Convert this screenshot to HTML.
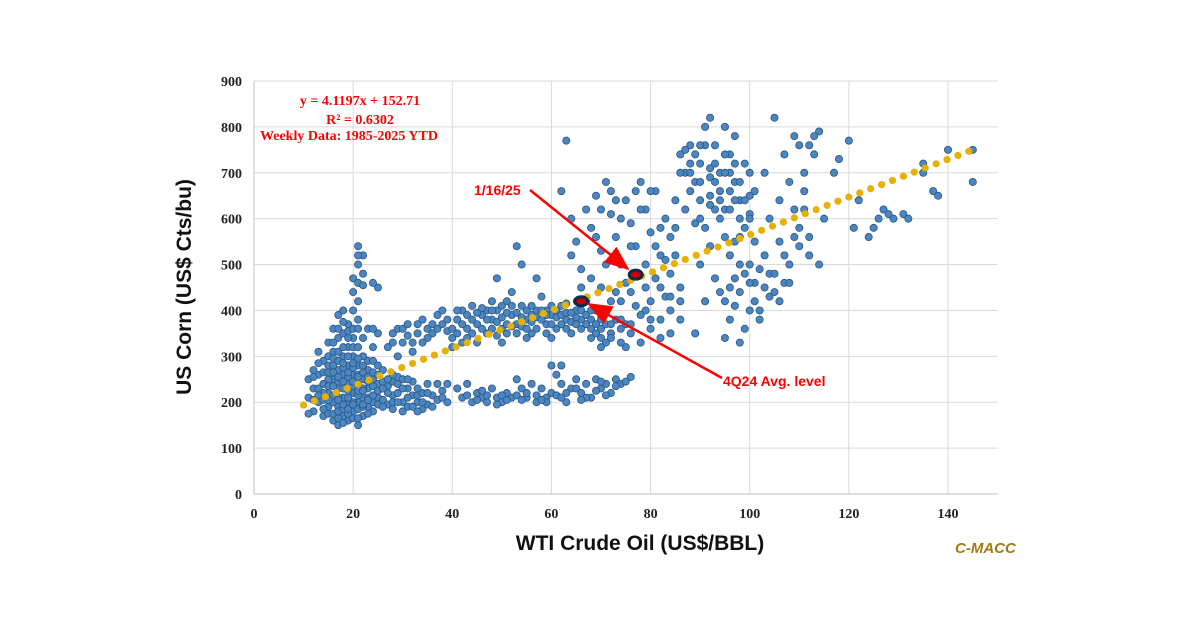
<!DOCTYPE html>
<html><head><meta charset="utf-8"><style>
body{margin:0;background:#fff;width:1200px;height:627px;overflow:hidden}
svg{display:block}
</style></head><body>
<svg id="c" width="1200" height="627"></svg>
<script>
const xTicks=[0,20,40,60,80,100,120,140];
const yTicks=[0,100,200,300,400,500,600,700,800,900];
const slope=4.1197, intercept=152.71;
const trendRange=[10,145];
const highlight1=[77,478];
const highlight2=[66,420];
const pointsRaw="11,210 12,180 12,230 13,200 13,260 14,170 14,240 14,290 15,190 15,220 15,280 15,330 16,160 16,200 16,250 16,310 16,360 17,150 17,190 17,230 17,270 17,340 17,390 18,170 18,210 18,260 18,300 18,350 19,160 19,200 19,240 19,280 19,320 19,370 20,180 20,220 20,260 20,300 20,340 21,150 21,200 21,240 21,280 21,380 22,170 22,210 22,250 22,300 23,190 23,230 23,270 23,360 24,200 24,250 24,320 25,210 25,240 25,350 13,310 18,400 12,270 11,250 14,220 16,280 20,200 22,230 24,180 19,210 15,250 17,210 18,230 13,230 21,260 23,210 "+
"11,175 12,205 12,255 13,215 13,285 14,185 14,205 14,265 15,175 15,205 15,235 15,265 15,300 16,175 16,215 16,235 16,265 16,295 16,330 17,165 17,180 17,205 17,245 17,255 17,290 17,310 17,360 18,155 18,185 18,195 18,245 18,275 18,285 18,320 18,375 19,175 19,185 19,225 19,255 19,265 19,300 19,340 19,355 20,165 20,195 20,235 20,245 20,275 20,285 20,320 20,360 21,165 21,185 21,215 21,225 21,255 21,295 21,320 21,360 22,190 22,195 22,225 22,265 22,280 22,340 23,175 23,205 23,245 23,255 23,290 24,215 24,235 24,265 24,290 24,360 25,195 25,225 25,260 25,280 26,205 26,245 26,270 27,195 27,235 28,215 28,245 28,185 29,220 29,255 30,200 30,250 31,190 31,230 32,215 32,245 33,200 33,215 34,220 34,185 35,195 35,240 36,215 37,205 38,225 39,240 27,320 28,350 29,360 30,330 31,345 32,330 33,370 35,360 36,350 37,390 38,370 39,355 "+
"20,470 21,500 21,540 22,480 22,520 20,440 21,420 25,450 24,460 20,400 21,460 22,455 21,520 "+
"26,190 27,220 28,200 29,240 30,180 31,210 32,190 33,230 34,200 35,220 36,190 37,240 38,210 39,200 27,250 29,200 31,250 33,180 26,230 28,260 30,230 30,360 31,370 33,350 34,380 35,340 36,370 37,360 38,400 39,380 32,310 34,330 28,330 29,300 "+
"40,340 41,380 42,400 43,360 44,410 45,370 46,390 47,350 48,380 49,400 50,360 51,420 52,390 53,370 54,410 55,380 56,350 57,400 58,430 59,370 60,390 61,360 62,410 63,380 64,350 65,400 45,330 50,330 55,340 60,340 42,330 48,420 52,440 53,540 54,500 57,470 49,470 66,380 67,420 68,360 69,400 70,340 44,380 47,400 51,370 56,390 59,400 63,360 "+
"40,320 40,360 41,350 41,400 42,370 43,390 43,340 44,350 45,395 46,360 46,405 47,380 48,360 48,400 49,375 49,345 50,385 50,410 51,395 51,350 52,365 52,410 53,395 53,350 54,385 54,365 55,400 55,360 56,410 56,375 57,385 57,360 58,380 58,400 59,390 59,350 60,370 60,410 61,385 61,400 62,370 62,390 63,395 63,415 64,375 64,395 65,370 65,385 66,400 66,360 67,370 67,390 68,380 68,400 69,370 69,350 70,380 70,360 71,370 72,350 73,380 74,360 75,370 "+
"41,230 42,210 43,240 44,200 45,220 46,210 47,200 48,230 49,210 50,200 51,220 52,210 53,250 54,230 55,210 56,240 57,200 58,230 59,210 60,220 61,260 62,240 63,200 64,230 65,250 66,220 67,240 68,210 69,250 70,230 71,240 72,220 73,250 74,240 76,255 62,280 60,280 "+
"43,215 45,205 47,215 49,195 51,205 53,215 55,220 57,215 59,200 61,215 63,220 65,230 67,210 69,225 71,215 73,235 75,245 46,225 50,215 54,205 58,205 62,210 66,205 70,245 "+
"62,660 63,770 64,600 65,550 66,490 67,620 68,580 69,650 70,530 71,680 72,610 73,560 74,500 75,640 76,590 77,540 78,680 79,620 80,570 81,660 82,520 83,600 84,480 85,640 70,450 72,420 74,380 76,350 78,330 80,360 82,340 84,400 86,380 68,470 73,440 77,410 79,450 81,470 83,430 86,450 71,330 75,320 80,420 85,520 64,520 66,450 "+
"70,620 72,660 74,600 76,540 78,620 80,660 82,580 84,560 69,560 73,640 77,660 79,500 81,540 83,510 85,580 71,500 75,460 79,400 82,380 84,350 86,420 70,390 72,370 74,420 76,440 78,390 80,380 82,450 84,430 68,340 70,320 72,340 74,330 76,370 "+
"86,740 87,700 88,760 89,680 90,720 91,800 92,650 93,760 94,700 95,620 96,740 97,680 98,600 99,720 100,650 87,620 89,590 91,580 93,620 95,560 97,550 99,580 88,660 90,640 92,710 94,660 96,700 98,640 100,700 92,820 95,800 97,780 "+
"86,700 87,750 88,720 89,740 90,680 91,760 92,690 93,720 94,640 95,700 96,660 97,720 98,680 99,640 100,610 101,660 90,600 92,630 94,600 96,620 98,560 100,600 88,700 90,760 93,680 95,740 97,640 "+
"95,420 96,380 97,470 98,440 99,360 100,500 101,460 102,400 103,520 104,480 105,440 106,550 107,460 108,500 109,620 110,580 111,700 112,760 113,740 114,790 115,600 102,380 104,600 106,640 108,680 110,760 112,520 114,500 98,330 100,400 101,550 103,700 105,820 107,740 109,780 111,660 89,350 91,420 93,470 95,340 90,500 92,540 "+
"96,450 97,410 99,480 101,420 103,450 105,480 107,520 109,560 111,620 113,780 94,440 96,520 98,500 100,460 102,490 104,430 106,420 108,460 110,540 112,560 "+
"118,730 120,770 121,580 124,560 126,600 127,620 129,600 131,610 135,720 137,660 140,750 145,750 145,680 117,700 122,640 125,580 128,610 132,600 135,700 138,650";
const points=pointsRaw.trim().split(/\s+/).map(s=>s.split(',').map(Number));

const X0=254,XS=(948-254)/140,Y0=494,YS=(494-81)/900;
const sx=v=>X0+v*XS, sy=v=>Y0-v*YS;
const svg=document.getElementById('c');
const NS='http://www.w3.org/2000/svg';
function mk(t,a,txt){const e=document.createElementNS(NS,t);for(const k in a)e.setAttribute(k,a[k]);if(txt!=null)e.textContent=txt;svg.appendChild(e);return e;}
const xMax=150;
yTicks.forEach(v=>{if(v>0){const l=mk('line',{x1:sx(0),x2:sx(xMax),y1:sy(v),y2:sy(v),stroke:'#d9d9d9','stroke-width':1});

}
const t=mk('text',{x:sx(0)-12,y:sy(v)+5,'text-anchor':'end','font-family':'Liberation Serif, serif','font-weight':'bold','font-size':14,fill:'#222'},v);

});
xTicks.forEach(v=>{if(v>0){const l=mk('line',{x1:sx(v),x2:sx(v),y1:sy(0),y2:sy(900),stroke:'#d9d9d9','stroke-width':1});

}
const t=mk('text',{x:sx(v),y:sy(0)+24,'text-anchor':'middle','font-family':'Liberation Serif, serif','font-weight':'bold','font-size':14,fill:'#222'},v);

});
const ax=mk('line',{x1:sx(0),x2:sx(xMax),y1:sy(0),y2:sy(0),stroke:'#bfbfbf','stroke-width':1});


const ay=mk('line',{x1:sx(0),x2:sx(0),y1:sy(0),y2:sy(900),stroke:'#bfbfbf','stroke-width':1});


points.forEach(p=>{const c=mk('circle',{cx:sx(p[0]),cy:sy(p[1]),r:3.6,fill:'#4a86c2',stroke:'#2b557f','stroke-width':0.8});

});
for(let x=trendRange[0];x<=trendRange[1]+0.01;x+=2.2){const c=mk('circle',{cx:sx(x),cy:sy(slope*x+intercept),r:3.6,fill:'#e8b000'});

}
[highlight1,highlight2].forEach(h=>{const e=mk('ellipse',{cx:sx(h[0]),cy:sy(h[1]),rx:6.5,ry:4.5,fill:'#c00',stroke:'#0d2a4d','stroke-width':3});

});
const defs=document.createElementNS(NS,'defs');defs.innerHTML='<marker id="ah" markerWidth="10" markerHeight="8" refX="9" refY="4" orient="auto"><path d="M0,0 L10,4 L0,8 z" fill="#f00"/></marker>';svg.appendChild(defs);
const a1=mk('line',{x1:530,y1:190,x2:sx(highlight1[0])-8,y2:sy(highlight1[1])-6,stroke:'#f00','stroke-width':2.5,'marker-end':'url(#ah)'});


const a2=mk('line',{x1:722,y1:378,x2:sx(highlight2[0])+8,y2:sy(highlight2[1])+3,stroke:'#f00','stroke-width':2.5,'marker-end':'url(#ah)'});


</script>
<div style="position:absolute;left:0;top:0;width:1200px;height:627px;pointer-events:none;font-family:'Liberation Serif',serif;font-weight:bold;color:#f00">
<div style="position:absolute;left:260px;top:92px;width:200px;text-align:center;font-size:14px;line-height:19px">y = 4.1197x + 152.71<br>R² = 0.6302</div>
<div style="position:absolute;left:260px;top:129px;font-size:14px">Weekly Data: 1985-2025 YTD</div>
<div style="position:absolute;left:474px;top:182px;font-family:'Liberation Sans',sans-serif;font-size:14px">1/16/25</div>
<div style="position:absolute;left:723px;top:373px;font-family:'Liberation Sans',sans-serif;font-size:14px">4Q24 Avg. level</div>
<div style="position:absolute;left:440px;top:532px;width:400px;text-align:center;font-family:'Liberation Sans',sans-serif;font-size:21px;color:#111">WTI Crude Oil (US$/BBL)</div>
<div style="position:absolute;left:-15px;top:275px;width:400px;text-align:center;font-family:'Liberation Sans',sans-serif;font-size:21px;color:#111;transform:rotate(-90deg);transform-origin:200px 12px">US Corn (US$ Cts/bu)</div>
<div style="position:absolute;left:955px;top:540px;font-family:'Liberation Sans',sans-serif;font-style:italic;font-size:15px;color:#a07c10">C-MACC</div>
</div>
</body></html>
